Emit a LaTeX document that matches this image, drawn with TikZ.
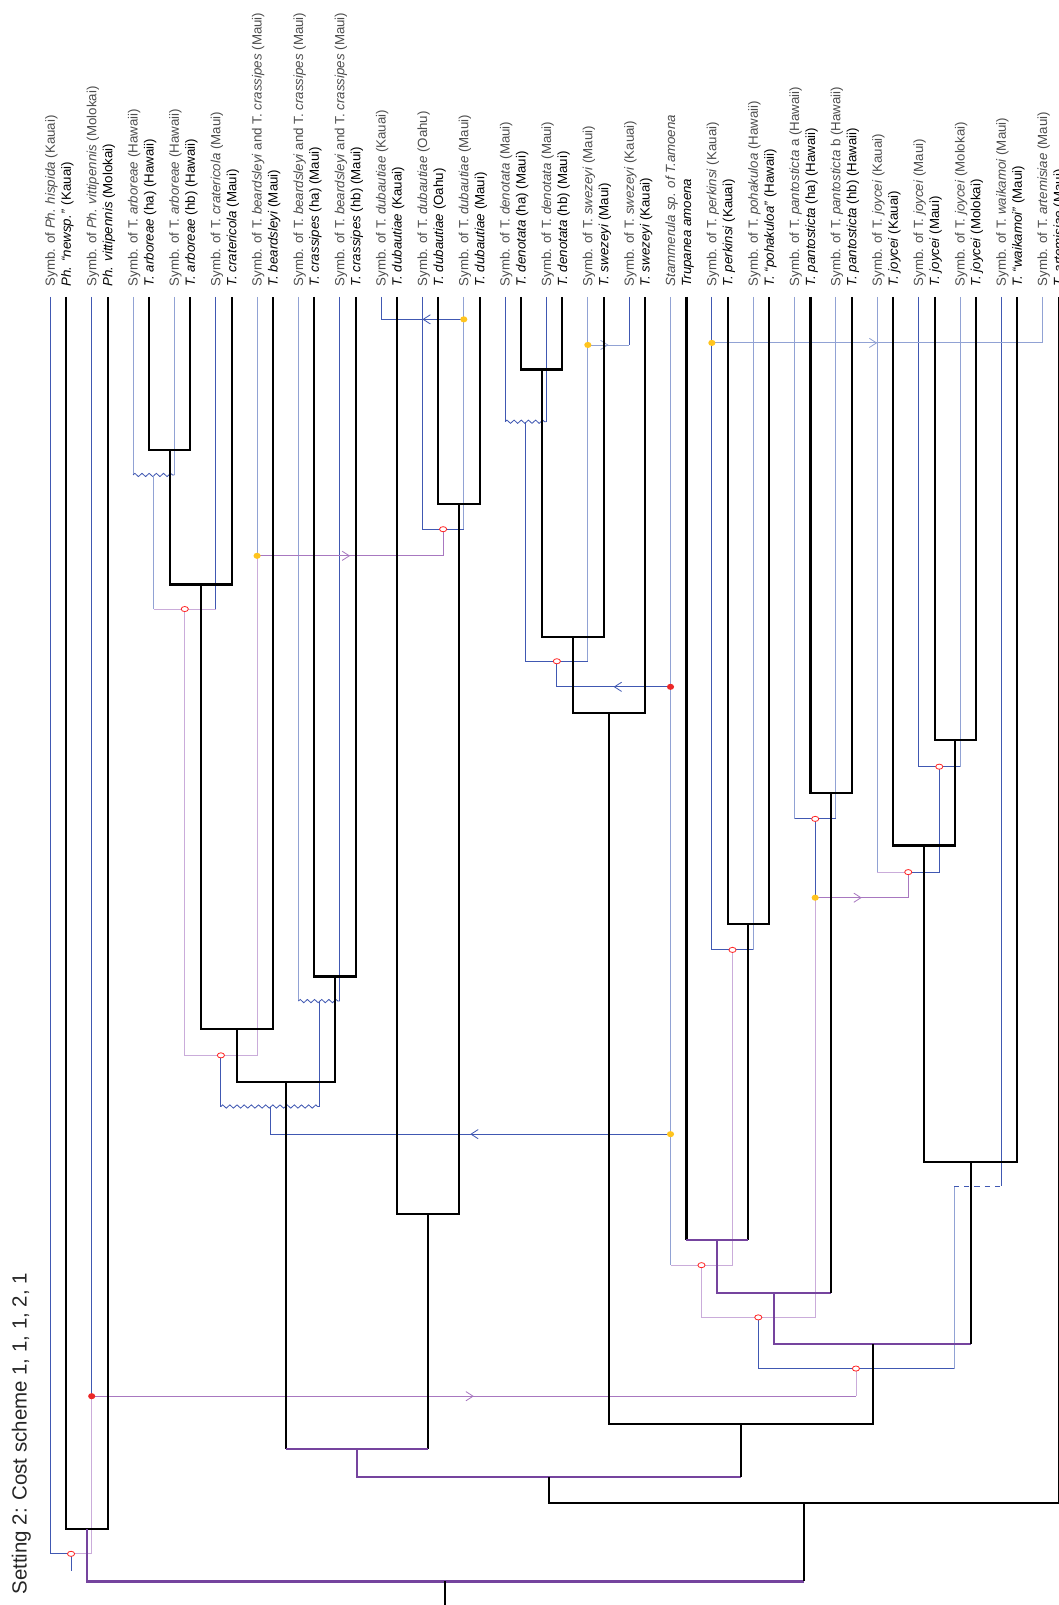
\documentclass[tikz,border=0pt]{standalone}
\usepackage{fontspec}
\setmainfont{Liberation Sans}
\usetikzlibrary{calc,arrows.meta,decorations.pathmorphing,decorations.markings,shapes.geometric}

\definecolor{hostpurple}{RGB}{117,68,158}
\definecolor{symbdark}{RGB}{64,88,178}
\definecolor{symblight}{RGB}{145,162,212}
\definecolor{symblilac}{RGB}{202,172,218}
\definecolor{symbmauve}{RGB}{168,120,192}
\definecolor{switchyellow}{RGB}{255,196,30}
\definecolor{dupred}{RGB}{236,40,40}

\tikzset{
  host/.style={line width=2pt, black},
  hostp/.style={line width=2pt, hostpurple},
  sd/.style={line width=0.8pt, symbdark},
  sl/.style={line width=0.8pt, symblight},
  sv/.style={line width=0.8pt, symblilac},
  sm/.style={line width=0.8pt, symbmauve},
  zz/.style={decorate, decoration={zigzag, segment length=7pt, amplitude=1.6pt}},
  jump/.style={postaction={decorate}, decoration={markings,
      mark=at position .5 with {\arrow{Straight Barb[length=7pt,width=9pt,line width=0.8pt]}}}},
  cosp/.style={ellipse, draw=red!85, fill=white, line width=0.8pt, inner sep=0, minimum width=7pt, minimum height=5pt},
  dupl/.style={ellipse, fill=dupred, inner sep=0, minimum width=7pt, minimum height=6pt},
  swit/.style={ellipse, fill=switchyellow, inner sep=0, minimum width=7pt, minimum height=6pt},
  symblab/.style={rotate=90, anchor=base west, inner sep=0, text=black!70, font=\fontsize{13}{15}\selectfont},
  hostlab/.style={rotate=90, anchor=base west, inner sep=0, text=black, font=\fontsize{13}{15}\selectfont},
}

\begin{document}
\begin{tikzpicture}[x=1pt, y=-1pt]
    \useasboundingbox (0,0) rectangle (1034,1568);

    % title
    \node[rotate=90, anchor=base west, inner sep=0, text=black!85, font=\fontsize{20}{24}\selectfont] (title) at (26,1558) {Setting 2: Cost scheme 1, 1, 1, 2, 1};

    % leaf columns
    \foreach \i in {0,...,24} {
        \coordinate (s\i) at ({49.2+40.39*\i}, 290);
        \coordinate (h\i) at ({64.8+40.39*\i}, 290);
    }

    % labels
    \foreach \i/\sy/\ho in {
        0/{Symb. of \textit{Ph. hispida} (Kauai)}/{\textit{Ph. “newsp.”} (Kauai)},
        1/{Symb. of \textit{Ph. vittipennis} (Molokai)}/{\textit{Ph. vittipennis} (Molokai)},
        2/{Symb. of T. \textit{arboreae} (Hawaii)}/{\textit{T. arboreae} (ha) (Hawaii)},
        3/{Symb. of T. \textit{arboreae} (Hawaii)}/{\textit{T. arboreae} (hb) (Hawaii)},
        4/{Symb. of T. \textit{cratericola} (Maui)}/{\textit{T. cratericola} (Maui)},
        5/{Symb. of T. \textit{beardsleyi} and T. \textit{crassipes} (Maui)}/{\textit{T. beardsleyi} (Maui)},
        6/{Symb. of T. \textit{beardsleyi} and T. \textit{crassipes} (Maui)}/{\textit{T. crassipes} (ha) (Maui)},
        7/{Symb. of T. \textit{beardsleyi} and T. \textit{crassipes} (Maui)}/{\textit{T. crassipes} (hb) (Maui)},
        8/{Symb. of T. \textit{dubautiae} (Kauai)}/{\textit{T. dubautiae} (Kauai)},
        9/{Symb. of T. \textit{dubautiae} (Oahu)}/{\textit{T. dubautiae} (Oahu)},
        10/{Symb. of T. \textit{dubautiae} (Maui)}/{\textit{T. dubautiae} (Maui)},
        11/{Symb. of T. \textit{denotata} (Maui)}/{\textit{T. denotata} (ha) (Maui)},
        12/{Symb. of T. \textit{denotata} (Maui)}/{\textit{T. denotata} (hb) (Maui)},
        13/{Symb. of T. \textit{swezeyi} (Maui)}/{\textit{T. swezeyi} (Maui)},
        14/{Symb. of T. \textit{swezeyi} (Kauai)}/{\textit{T. swezeyi} (Kauai)},
        15/{\textit{Stammerula sp. of T.amoena}}/{\textit{Trupanea amoena}},
        16/{Symb. of T. \textit{perkinsi} (Kauai)}/{\textit{T. perkinsi} (Kauai)},
        17/{Symb. of T. \textit{pohakuloa} (Hawaii)}/{\textit{T. “pohakuloa”} (Hawaii)},
        18/{Symb. of T. \textit{pantosticta} a (Hawaii)}/{\textit{T. pantosticta} (ha) (Hawaii)},
        19/{Symb. of T. \textit{pantosticta} b (Hawaii)}/{\textit{T. pantosticta} (hb) (Hawaii)},
        20/{Symb. of T. \textit{joycei} (Kauai)}/{\textit{T. joycei} (Kauai)},
        21/{Symb. of T. \textit{joycei} (Maui)}/{\textit{T. joycei} (Maui)},
        22/{Symb. of T. \textit{joycei} (Molokai)}/{\textit{T. joycei} (Molokai)},
        23/{Symb. of T. \textit{waikamoi} (Maui)}/{\textit{T. “waikamoi”} (Maui)},
        24/{Symb. of T. \textit{artemisiae} (Maui)}/{\textit{T. artemisiae} (Maui)}} {
        \node[symblab] (ls\i) at ($(s\i)+(4.5,-10)$) {\sy};
        \node[hostlab] (lh\i) at ($(h\i)+(4.5,-10)$) {\ho};
    }

    % host tree nodes
    \coordinate (hA) at (85.0,1494);
    \coordinate (hB) at (165.8,440);
    \coordinate (hC) at (196.1,571);
    \coordinate (hD) at (231.4,1005);
    \coordinate (hE) at (327.3,954);
    \coordinate (hF) at (279.4,1057);
    \coordinate (hG) at (448.5,492);
    \coordinate (hH) at (418.2,1186);
    \coordinate (hI) at (348.8,1416);
    \coordinate (hJ) at (529.3,361);
    \coordinate (hK) at (559.6,622);
    \coordinate (hL) at (594.9,697);
    \coordinate (hM) at (731.2,903);
    \coordinate (hN) at (700.9,1211);
    \coordinate (hO) at (812.0,775);
    \coordinate (hP) at (756.5,1263);
    \coordinate (hQ) at (933.2,723);
    \coordinate (hR) at (902.9,826);
    \coordinate (hS) at (948.3,1135);
    \coordinate (hT) at (852.4,1313);
    \coordinate (hU) at (723.7,1391);
    \coordinate (hV) at (536.2,1443);
    \coordinate (hW) at (785.2,1468);
    \coordinate (hRoot) at (435.1,1545);
    \coordinate (hEnd) at (435.1,1568);

    % symbiont tree nodes
    \coordinate (p1) at (69.4,1518);
    \coordinate (pr) at (69.4,1535);
    \coordinate (d1) at (89.59,1364);
    \coordinate (p2) at (836.2,1337);
    \coordinate (p3) at (740.8,1287);
    \coordinate (q1) at (932,1159);
    \coordinate (p4) at (685.3,1236);
    \coordinate (p5) at (715.6,928);
    \coordinate (y1) at (796.4,877);
    \coordinate (p6) at (796.4,800);
    \coordinate (p7) at (887.3,852);
    \coordinate (p8) at (917.6,749);
    \coordinate (y2) at (695.44,335);
    \coordinate (z1) at (150.2,464);
    \coordinate (p9) at (180.5,595);
    \coordinate (y3) at (251.15,543);
    \coordinate (p10) at (432.9,517);
    \coordinate (y4) at (453.1,312);
    \coordinate (p11) at (215.8,1031);
    \coordinate (z2) at (311.7,978);
    \coordinate (z3) at (263.8,1081);
    \coordinate (y5) at (655.05,1108);
    \coordinate (d2) at (655.05,671);
    \coordinate (z4) at (513.7,412);
    \coordinate (p12) at (544,646);
    \coordinate (y6) at (574.27,337);

    % symbiont leaf lines
    \draw[sd] (s0) |- (p1);
    \draw[sd] (s1) -- (d1);
    \draw[sl] (s2) -- (s2 |- z1);
    \draw[sl] (s3) -- (s3 |- z1);
    \draw[sd] (s4) -- (s4 |- p9);
    \draw[sl] (s5) -- (y3);
    \draw[sl] (s6) -- (s6 |- z2);
    \draw[sd] (s7) -- (s7 |- z2);
    \draw[sd] (s8) -- (s8 |- y4);
    \draw[sd] (s9) -- (s9 |- p10);
    \draw[sl] (s10) -- (s10 |- p10);
    \draw[sd] (s11) -- (s11 |- z4);
    \draw[sd] (s12) -- (s12 |- z4);
    \draw[sl] (s13) -- (s13 |- p12);
    \draw[sd] (s14) -- (s14 |- y6);
    \draw[sl] (s15) -- (s15 |- p4);
    \draw[sd] (s16) -- (s16 |- p5);
    \draw[sl] (s17) -- (s17 |- p5);
    \draw[sl] (s18) -- (s18 |- p6);
    \draw[sl] (s19) -- (s19 |- p6);
    \draw[sl] (s20) -- (s20 |- p7);
    \draw[sd] (s21) -- (s21 |- p8);
    \draw[sl] (s22) -- (s22 |- p8);
    \draw[sd] (s23) -- (s23 |- q1);
    \draw[sl] (s24) -- (s24 |- y2);

    % symbiont inner branches
    \draw[sd, zz] (s2 |- z1) -- (s3 |- z1);
    \draw[sl] (z1) -- (z1 |- p9);
    \draw[sv] (z1 |- p9) -- (s4 |- p9);
    \draw[sv] (p9) |- (p11) -| (y3);
    \draw[sm, jump] (y3) -- (y3 -| p10);
    \draw[sm] (y3 -| p10) -- (p10);
    \draw[sd] (s9 |- p10) -- (s10 |- p10);
    \draw[sd, jump] (y4) -- (s8 |- y4);
    \draw[sd, zz] (s6 |- z2) -- (s7 |- z2);
    \draw[sd] (z2) -- (z2 |- z3);
    \draw[sd] (p11) -- (p11 |- z3);
    \draw[sd, zz] (p11 |- z3) -- (z2 |- z3);
    \draw[sd] (z3) -- (z3 |- y5);
    \draw[sd, jump] (y5) -- (z3 |- y5);
    \draw[sd, zz] (s11 |- z4) -- (s12 |- z4);
    \draw[sd] (z4) |- (p12) -- (s13 |- p12);
    \draw[sd] (p12) -- (p12 |- d2);
    \draw[sd, jump] (d2) -- (p12 |- d2);
    \draw[sl, jump] (y6) -- (s14 |- y6);
    \draw[sl, jump] (y2) -- (s24 |- y2);
    \draw[sd] (s16 |- p5) -- (s17 |- p5);
    \draw[sv] (p5) |- (p4);
    \draw[sv] (s15 |- p4) -- (p4);
    \draw[sv] (p4) |- (p3) -| (y1);
    \draw[sd] (s18 |- p6) -- (s19 |- p6);
    \draw[sd] (p6) -- (y1);
    \draw[sm, jump] (y1) -- (y1 -| p7);
    \draw[sm] (y1 -| p7) -- (p7);
    \draw[sd] (s21 |- p8) -- (s22 |- p8);
    \draw[sd] (p8) |- (p7);
    \draw[sv] (s20 |- p7) -- (p7);
    \draw[sd] (p3) |- (p2) -- (q1 |- p2);
    \draw[sl] (q1) -- (q1 |- p2);
    \draw[sd, dash pattern=on 5pt off 5pt] (q1) -- (s23 |- q1);
    \draw[sv] (p2) -- (p2 |- d1);
    \draw[sm, jump] (d1) -- (p2 |- d1);
    \draw[sv] (d1) |- (p1);
    \draw[sd] (p1) -- (pr);

    % host tree
    \draw[host] (h0) |- (hA) -| (h1);
    \draw[host] (h2) |- (hB) -| (h3);
    \draw[host] (hB) |- (hC) -| (h4);
    \draw[host] (hC) |- (hD) -| (h5);
    \draw[host] (h6) |- (hE) -| (h7);
    \draw[host] (hD) |- (hF) -| (hE);
    \draw[host] (h9) |- (hG) -| (h10);
    \draw[host] (h8) |- (hH) -| (hG);
    \draw[host] (hF) -- (hF |- hI);
    \draw[host] (hH) -- (hH |- hI);
    \draw[hostp] (hF |- hI) -- (hH |- hI);
    \draw[host] (h11) |- (hJ) -| (h12);
    \draw[host] (hJ) |- (hK) -| (h13);
    \draw[host] (hK) |- (hL) -| (h14);
    \draw[host] (h16) |- (hM) -| (h17);
    \draw[host] (h15) -- (h15 |- hN);
    \draw[host] (hM) -- (hM |- hN);
    \draw[hostp] (h15 |- hN) -- (hM |- hN);
    \draw[host] (h18) |- (hO) -| (h19);
    \draw[hostp] (hN) |- (hP) -- (hP -| hO);
    \draw[host] (hO) -- (hO |- hP);
    \draw[host] (h21) |- (hQ) -| (h22);
    \draw[host] (h20) |- (hR) -| (hQ);
    \draw[host] (hR) |- (hS) -| (h23);
    \draw[hostp] (hP) |- (hT) -- (hT -| hS);
    \draw[host] (hS) -- (hS |- hT);
    \draw[host] (hL) |- (hU) -| (hT);
    \draw[hostp] (hI) |- (hV) -- (hV -| hU);
    \draw[host] (hU) -- (hU |- hV);
    \draw[host] (hV) |- (hW) -| (h24);
    \draw[hostp] (hA) |- (hRoot) -- (hRoot -| hW);
    \draw[host] (hW) -- (hW |- hRoot);
    \draw[host] (hRoot) -- (hEnd);

    % events
    \foreach \c in {p1,p2,p3,p4,p5,p6,p7,p8,p9,p10,p11,p12}
        \node[cosp] (m\c) at (\c) {};
    \foreach \c in {d1,d2}
        \node[dupl] (m\c) at (\c) {};
    \foreach \c in {y1,y2,y3,y4,y5,y6}
        \node[swit] (m\c) at (\c) {};
\end{tikzpicture}
\end{document}
